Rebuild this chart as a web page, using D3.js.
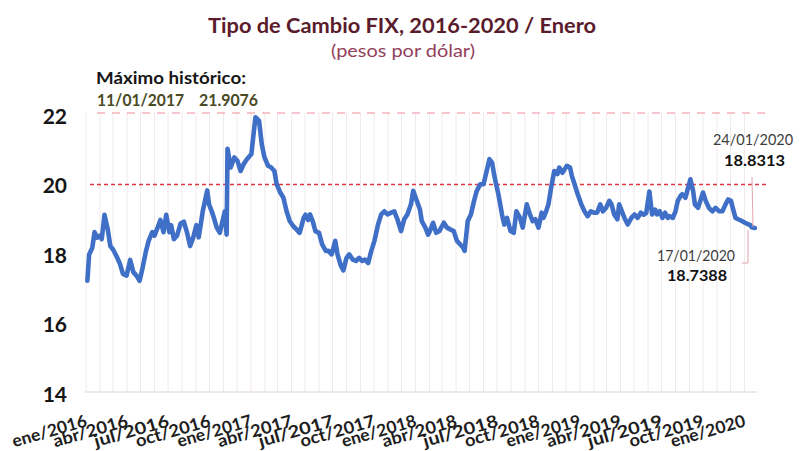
<!DOCTYPE html>
<html lang="es">
<head>
<meta charset="utf-8">
<title>Tipo de Cambio FIX, 2016-2020</title>
<script src="https://cdn.jsdelivr.net/npm/d3@7"></script>
<style>
    html, body { margin: 0; padding: 0; background: #fff; }
    #chart { width: 805px; height: 451px; }
    text { font-family: "Century Gothic", "URW Gothic", Lato, "DejaVu Sans", sans-serif; }
</style>
</head>
<body>
<div id="chart"></div>
<script>
// Tipo de cambio FIX (pesos por dólar), lecturas semanales aprox. del gráfico
const fixDates = [
    '2016-01-04','2016-01-08','2016-01-15','2016-01-20','2016-01-26','2016-02-01','2016-02-05','2016-02-11',
    '2016-02-18','2016-02-24','2016-03-01','2016-03-09','2016-03-16','2016-03-23','2016-03-31','2016-04-08',
    '2016-04-15','2016-04-22','2016-04-29','2016-05-06','2016-05-13','2016-05-19','2016-05-27','2016-06-01',
    '2016-06-07','2016-06-14','2016-06-21','2016-06-27','2016-07-04','2016-07-08','2016-07-14','2016-07-21',
    '2016-07-29','2016-08-05','2016-08-12','2016-08-19','2016-08-26','2016-09-02','2016-09-07','2016-09-12',
    '2016-09-16','2016-09-26','2016-09-30','2016-10-06','2016-10-11','2016-10-17','2016-10-24','2016-11-04',
    '2016-11-08','2016-11-10','2016-11-17','2016-11-25','2016-12-02','2016-12-09','2016-12-16','2016-12-23',
    '2017-01-02','2017-01-06','2017-01-11','2017-01-19','2017-01-25','2017-01-31','2017-02-08','2017-02-15',
    '2017-02-22','2017-02-27','2017-03-07','2017-03-14','2017-03-21','2017-03-28','2017-04-05','2017-04-12',
    '2017-04-19','2017-04-28','2017-05-02','2017-05-08','2017-05-12','2017-05-18','2017-05-24','2017-06-01',
    '2017-06-08','2017-06-16','2017-06-22','2017-06-29','2017-07-07','2017-07-12','2017-07-19','2017-07-25',
    '2017-08-01','2017-08-07','2017-08-15','2017-08-22','2017-08-29','2017-09-05','2017-09-11','2017-09-18',
    '2017-09-25','2017-10-02','2017-10-10','2017-10-17','2017-10-24','2017-10-31','2017-11-08','2017-11-15',
    '2017-11-22','2017-11-30','2017-12-07','2017-12-14','2017-12-22','2017-12-27','2018-01-04','2018-01-11',
    '2018-01-15','2018-01-23','2018-01-29','2018-02-02','2018-02-09','2018-02-16','2018-02-23','2018-03-05',
    '2018-03-12','2018-03-19','2018-03-27','2018-04-03','2018-04-10','2018-04-17','2018-04-20','2018-04-27',
    '2018-05-04','2018-05-11','2018-05-17','2018-05-25','2018-06-01','2018-06-08','2018-06-14','2018-06-20',
    '2018-06-25','2018-06-29','2018-07-04','2018-07-12','2018-07-17','2018-07-23','2018-07-31','2018-08-07',
    '2018-08-13','2018-08-21','2018-08-27','2018-09-05','2018-09-12','2018-09-18','2018-09-24','2018-10-01',
    '2018-10-08','2018-10-12','2018-10-18','2018-10-23','2018-10-29','2018-11-05','2018-11-12','2018-11-16',
    '2018-11-23','2018-12-03','2018-12-10','2018-12-14','2018-12-20','2018-12-27','2019-01-04','2019-01-11',
    '2019-01-18','2019-01-25','2019-02-01','2019-02-08','2019-02-15','2019-02-21','2019-02-28','2019-03-07',
    '2019-03-12','2019-03-18','2019-03-25','2019-03-29','2019-04-04','2019-04-11','2019-04-17','2019-04-25',
    '2019-05-02','2019-05-09','2019-05-16','2019-05-22','2019-05-28','2019-06-04','2019-06-10','2019-06-17',
    '2019-06-21','2019-06-27','2019-07-03','2019-07-09','2019-07-15','2019-07-19','2019-07-26','2019-08-01',
    '2019-08-06','2019-08-12','2019-08-16','2019-08-23','2019-08-29','2019-09-03','2019-09-09','2019-09-13',
    '2019-09-20','2019-09-25','2019-10-01','2019-10-07','2019-10-14','2019-10-22','2019-10-29','2019-11-06',
    '2019-11-13','2019-11-20','2019-11-26','2019-12-02','2019-12-06','2019-12-12','2019-12-18','2019-12-26',
    '2020-01-02','2020-01-07','2020-01-14','2020-01-17','2020-01-24'
];
const fixValues = [
    17.20, 17.96, 18.15, 18.60, 18.44, 18.50, 18.40, 19.10,
    18.70, 18.20, 18.10, 17.90, 17.70, 17.40, 17.35, 17.80,
    17.45, 17.35, 17.20, 17.60, 18.05, 18.35, 18.60, 18.50,
    18.70, 18.95, 18.60, 19.10, 18.60, 18.80, 18.40, 18.50,
    18.85, 18.90, 18.60, 18.20, 18.45, 18.80, 18.45, 18.85,
    19.20, 19.80, 19.40, 19.20, 19.00, 18.73, 18.58, 19.20,
    18.53, 21.00, 20.46, 20.75, 20.65, 20.36, 20.56, 20.70,
    20.85, 21.33, 21.9076, 21.80, 21.13, 20.75, 20.51, 20.46,
    20.36, 19.98, 19.74, 19.59, 19.20, 18.92, 18.77, 18.68,
    18.58, 19.01, 19.10, 18.95, 19.11, 18.92, 18.63, 18.58,
    18.25, 18.06, 18.06, 17.96, 18.35, 17.96, 17.65, 17.50,
    17.86, 17.96, 17.81, 17.77, 17.86, 17.77, 17.81, 17.71,
    18.06, 18.35, 18.82, 19.11, 19.20, 19.11, 19.16, 19.20,
    18.97, 18.63, 18.97, 19.11, 19.40, 19.79, 19.50, 19.25,
    18.92, 18.73, 18.53, 18.63, 18.87, 18.58, 18.63, 18.87,
    18.73, 18.68, 18.63, 18.35, 18.25, 18.15, 18.06, 18.92,
    19.11, 19.50, 19.79, 19.98, 19.98, 20.36, 20.70, 20.60,
    20.22, 19.98, 19.69, 19.11, 18.82, 19.01, 18.63, 18.58,
    19.20, 19.01, 18.73, 19.40, 19.11, 18.92, 18.97, 18.73,
    19.16, 19.01, 19.20, 19.40, 19.88, 20.36, 20.27, 20.46,
    20.31, 20.51, 20.46, 20.22, 19.98, 19.69, 19.40, 19.20,
    19.06, 19.20, 19.16, 19.16, 19.40, 19.20, 19.30, 19.50,
    19.40, 19.11, 18.97, 19.40, 19.20, 18.97, 18.82, 19.01,
    19.11, 19.01, 19.16, 19.10, 19.15, 19.77, 19.11, 19.25,
    19.11, 19.20, 19.01, 19.16, 19.01, 19.06, 19.01, 19.20,
    19.50, 19.64, 19.69, 19.59, 19.88, 20.12, 19.79, 19.40,
    19.30, 19.50, 19.74, 19.50, 19.30, 19.20, 19.30, 19.20,
    19.20, 19.40, 19.54, 19.50, 19.30, 19.01, 18.97, 18.92,
    18.87, 18.84, 18.80, 18.74, 18.72
];

const yTicks = [14, 16, 18, 20, 22];
const monthNames = ['ene', 'feb', 'mar', 'abr', 'may', 'jun', 'jul', 'ago', 'sep', 'oct', 'nov', 'dic'];
const refLines = [22, 20];   // máximo histórico y nivel de 20
const maxNote = ['Máximo histórico:', '11/01/2017', '21.9076'];
const lastNote = ['24/01/2020', '18.8313'];
const prevNote = ['17/01/2020', '18.7388'];

const width = 805, height = 451;
const parseDate = d3.timeParse('%Y-%m-%d');
const series = fixDates.map((d, i) => ({ date: parseDate(d), value: fixValues[i] }));

const svg = d3.select('#chart').append('svg')
    .attr('width', width)
    .attr('height', height);

const x = d3.scaleTime()
    .domain([new Date(2016, 0, 1), new Date(2020, 0, 31)])
    .range([86, 758]);
const y = d3.scaleLinear()
    .domain([14, 22])
    .range([392, 114]);

// helper: fixed width text so the layout matches the original font
function fitText(sel, w) {
    return sel.attr('textLength', w).attr('lengthAdjust', 'spacingAndGlyphs');
}

// monthly vertical gridlines
const months = x.ticks(d3.timeMonth.every(1));
svg.append('g')
    .selectAll('line')
    .data(months)
    .enter().append('line')
    .attr('x1', d => x(d)).attr('x2', d => x(d))
    .attr('y1', y(22) - 2).attr('y2', y(14))
    .attr('stroke', '#f1eaec')
    .attr('stroke-width', 1);

// bottom baseline
svg.append('line')
    .attr('x1', 85).attr('x2', 757)
    .attr('y1', y(14)).attr('y2', y(14))
    .attr('stroke', '#e8dfe2')
    .attr('stroke-width', 1.5);

// y labels
svg.append('g')
    .selectAll('text')
    .data(yTicks)
    .enter().append('text')
    .attr('x', 67)
    .attr('y', d => y(d) + 1)
    .attr('text-anchor', 'end')
    .attr('dominant-baseline', 'central')
    .attr('font-size', 21)
    .attr('font-weight', 'bold')
    .attr('fill', '#151515')
    .text(d => d);

// x labels every 3 months, rotated
const quarterTicks = months.filter(d => d.getMonth() % 3 === 0);
svg.append('g')
    .selectAll('text')
    .data(quarterTicks)
    .enter().append('text')
    .attr('transform', d => `translate(${x(d) + 2},426) rotate(-16)`)
    .attr('text-anchor', 'end')
    .attr('font-size', 17)
    .attr('font-weight', 'bold')
    .attr('fill', '#1e1e1e')
    .text(d => `${monthNames[d.getMonth()]}/${d.getFullYear()}`)
    .call(fitText, 77);

// reference lines
svg.append('line')
    .attr('x1', 97).attr('x2', 772)
    .attr('y1', y(refLines[0]) - 1).attr('y2', y(refLines[0]) - 1)
    .attr('stroke', '#f3b4bc')
    .attr('stroke-width', 1.6)
    .attr('stroke-dasharray', '8,7');
svg.append('line')
    .attr('x1', 90).attr('x2', 767)
    .attr('y1', y(refLines[1]) + 1).attr('y2', y(refLines[1]) + 1)
    .attr('stroke', '#e2353d')
    .attr('stroke-width', 1.6)
    .attr('stroke-dasharray', '4,3');

// exchange rate line
const line = d3.line()
    .x(d => x(d.date))
    .y(d => y(d.value));
svg.append('path')
    .datum(series)
    .attr('d', line)
    .attr('fill', 'none')
    .attr('stroke', '#3f6fc6')
    .attr('stroke-width', 4.6)
    .attr('stroke-linejoin', 'round')
    .attr('stroke-linecap', 'round');

// titles
svg.append('text')
    .attr('x', 402).attr('y', 33)
    .attr('text-anchor', 'middle')
    .attr('font-size', 21)
    .attr('font-weight', 'bold')
    .attr('fill', '#5a1c2c')
    .text('Tipo de Cambio FIX, 2016-2020 / Enero')
    .call(fitText, 388);
svg.append('text')
    .attr('x', 403).attr('y', 57)
    .attr('text-anchor', 'middle')
    .attr('font-size', 17)
    .attr('fill', '#93405a')
    .text('(pesos por dólar)')
    .call(fitText, 144);

// historic max note
svg.append('text')
    .attr('x', 96).attr('y', 84)
    .attr('font-size', 17)
    .attr('font-weight', 'bold')
    .attr('fill', '#161616')
    .text(maxNote[0])
    .call(fitText, 150);
svg.append('text')
    .attr('x', 97).attr('y', 106)
    .attr('font-size', 17)
    .attr('font-weight', 'bold')
    .attr('fill', '#4a4a24')
    .text(maxNote[1])
    .call(fitText, 87);
svg.append('text')
    .attr('x', 199).attr('y', 106)
    .attr('font-size', 17)
    .attr('font-weight', 'bold')
    .attr('fill', '#4a4a24')
    .text(maxNote[2])
    .call(fitText, 59);

// latest values notes
const noteColor = '#e3a4ae';
svg.append('text')
    .attr('x', 793).attr('y', 145)
    .attr('text-anchor', 'end')
    .attr('font-size', 16)
    .attr('fill', '#3c3c3c')
    .text(lastNote[0])
    .call(fitText, 80);
svg.append('text')
    .attr('x', 785).attr('y', 166)
    .attr('text-anchor', 'end')
    .attr('font-size', 16)
    .attr('font-weight', 'bold')
    .attr('fill', '#111')
    .text(lastNote[1])
    .call(fitText, 61);
svg.append('line')
    .attr('x1', 752).attr('x2', 753)
    .attr('y1', 177).attr('y2', 227)
    .attr('stroke', noteColor)
    .attr('stroke-width', 1);

svg.append('text')
    .attr('x', 735).attr('y', 261)
    .attr('text-anchor', 'end')
    .attr('font-size', 16)
    .attr('fill', '#3c3c3c')
    .text(prevNote[0])
    .call(fitText, 78);
svg.append('text')
    .attr('x', 727).attr('y', 281)
    .attr('text-anchor', 'end')
    .attr('font-size', 16)
    .attr('font-weight', 'bold')
    .attr('fill', '#111')
    .text(prevNote[1])
    .call(fitText, 60);
svg.append('path')
    .attr('d', 'M748,230 V263 H742')
    .attr('fill', 'none')
    .attr('stroke', noteColor)
    .attr('stroke-width', 1);
</script>
</body>
</html>
